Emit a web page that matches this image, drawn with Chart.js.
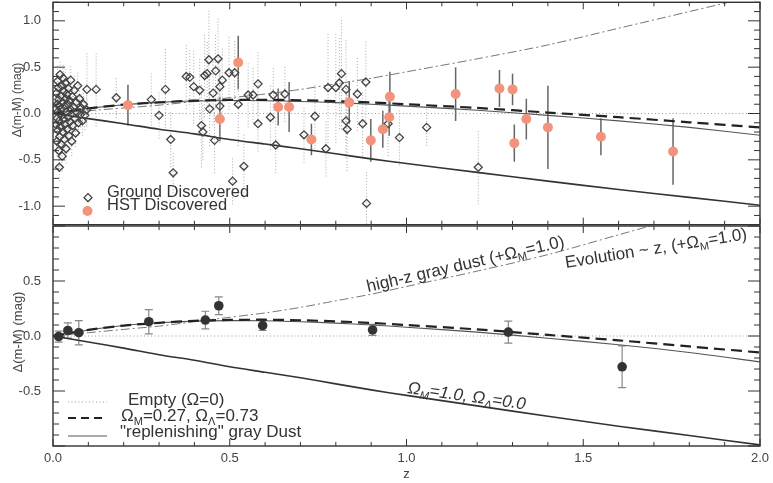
<!DOCTYPE html>
<html>
<head>
<meta charset="utf-8">
<script src="https://cdn.jsdelivr.net/npm/chart.js@4.4.0/dist/chart.umd.min.js"></script>
<style>
  body { margin: 0; background: #fff; overflow: hidden; }
  #topBox { position: absolute; left: 0; top: -3px; width: 773px; height: 233px; }
  #bottomBox { position: absolute; left: 0; top: 221px; width: 773px; height: 262px; }
</style>
</head>
<body>
<div id="topBox"><canvas id="topChart"></canvas></div>
<div id="bottomBox"><canvas id="bottomChart"></canvas></div>
<script>
// ground discovered SNe (open diamonds)
const groundZ = [
  0.008, 0.009, 0.010, 0.011, 0.012, 0.012, 0.013, 0.014, 0.014, 0.015,
  0.016, 0.016, 0.017, 0.018, 0.018, 0.019, 0.020, 0.020, 0.021, 0.022,
  0.023, 0.024, 0.025, 0.025, 0.026, 0.027, 0.028, 0.029, 0.030, 0.031,
  0.032, 0.033, 0.034, 0.035, 0.036, 0.037, 0.038, 0.039, 0.040, 0.042,
  0.043, 0.044, 0.045, 0.047, 0.048, 0.050, 0.051, 0.053, 0.055, 0.056,
  0.058, 0.060, 0.062, 0.064, 0.066, 0.068, 0.070, 0.072, 0.075, 0.078,
  0.080, 0.083, 0.086, 0.090, 0.095,
  0.096, 0.122, 0.179, 0.278, 0.300, 0.318, 0.333, 0.340, 0.377, 0.387,
  0.398, 0.415, 0.420, 0.424, 0.429, 0.436, 0.441, 0.443, 0.453, 0.457,
  0.460, 0.467, 0.472, 0.472, 0.479, 0.498, 0.508, 0.514, 0.524, 0.540,
  0.552, 0.566, 0.580, 0.580, 0.615, 0.623, 0.630, 0.656, 0.710, 0.741,
  0.772, 0.778, 0.800, 0.810, 0.816, 0.829, 0.829, 0.832, 0.861, 0.876,
  0.885, 0.887, 0.948, 0.980, 1.057, 1.203
];
const groundDm = [
  0.05, -0.12, 0.22, -0.30, 0.10, -0.05, 0.35, -0.18, 0.02, 0.28,
  -0.40, 0.15, -0.08, -0.58, 0.08, -0.25, 0.42, 0.00, -0.14, 0.19,
  -0.33, 0.05, 0.30, -0.02, -0.46, 0.12, -0.20, 0.38, -0.06, 0.24,
  -0.28, 0.08, -0.12, 0.33, 0.16, -0.38, 0.02, 0.21, -0.17, 0.10,
  -0.04, 0.27, -0.24, 0.14, -0.09, 0.36, 0.04, -0.30, 0.18, -0.13,
  0.07, 0.25, -0.05, -0.21, 0.12, 0.01, 0.30, -0.10, 0.16, -0.01,
  0.06, -0.08, 0.10, -0.02, 0.04,
  0.26, 0.26, 0.17, 0.15, -0.02, 0.26, -0.28, -0.64, 0.40, 0.39,
  0.29, 0.25, -0.13, -0.20, 0.41, 0.43, 0.58, 0.05, 0.22, -0.29,
  0.46, 0.59, 0.08, 0.29, 0.36, 0.44, -0.73, 0.44, 0.10, -0.57,
  0.20, 0.20, 0.32, -0.11, -0.04, 0.20, -0.34, 0.21, -0.23, -0.03,
  -0.38, 0.28, 0.28, 0.33, 0.43, 0.26, -0.08, -0.17, 0.21, -0.11,
  0.34, -0.97, -0.11, -0.26, -0.15, -0.58
];
const groundErr = [
  0.20, 0.18, 0.15, 0.16, 0.22, 0.14, 0.17, 0.15, 0.19, 0.14,
  0.18, 0.16, 0.13, 0.15, 0.17, 0.14, 0.16, 0.12, 0.15, 0.13,
  0.16, 0.12, 0.15, 0.13, 0.17, 0.12, 0.14, 0.16, 0.12, 0.13,
  0.15, 0.12, 0.13, 0.15, 0.12, 0.16, 0.12, 0.13, 0.14, 0.12,
  0.13, 0.14, 0.15, 0.12, 0.13, 0.15, 0.12, 0.16, 0.13, 0.14,
  0.12, 0.15, 0.13, 0.15, 0.13, 0.14, 0.16, 0.14, 0.15, 0.14,
  0.15, 0.16, 0.15, 0.16, 0.17,
  0.40, 0.40, 0.22, 0.28, 0.25, 0.45, 0.30, 0.22, 0.35, 0.30,
  0.40, 0.35, 0.45, 0.30, 0.45, 0.35, 0.55, 0.40, 0.35, 0.35,
  0.40, 0.45, 0.40, 0.30, 0.35, 0.40, 0.25, 0.35, 0.45, 0.35,
  0.35, 0.30, 0.35, 0.30, 0.35, 0.30, 0.30, 0.30, 0.30, 0.35,
  0.30, 0.60, 0.60, 0.50, 0.60, 0.55, 0.40, 0.45, 0.40, 0.35,
  0.45, 0.35, 0.35, 0.30, 0.20, 0.40
];

// HST discovered SNe (filled salmon circles)
const hstZ = [0.212, 0.472, 0.524, 0.637, 0.668, 0.731, 0.838, 0.899, 0.933, 0.951,
  0.953, 1.139, 1.263, 1.300, 1.305, 1.339, 1.400, 1.550, 1.754];
const hstDm = [0.09, -0.06, 0.55, 0.07, 0.07, -0.28, 0.12, -0.29, -0.17, -0.04,
  0.18, 0.21, 0.27, 0.26, -0.32, -0.06, -0.15, -0.25, -0.41];
const hstErr = [0.22, 0.24, 0.29, 0.20, 0.27, 0.17, 0.23, 0.23, 0.20, 0.20,
  0.27, 0.29, 0.20, 0.17, 0.20, 0.22, 0.45, 0.20, 0.36];

// binned residuals (lower panel)
const binZ = [0.016, 0.042, 0.073, 0.271, 0.431, 0.469, 0.593, 0.904, 1.288, 1.610];
const binDm = [-0.005, 0.05, 0.03, 0.13, 0.145, 0.275, 0.095, 0.055, 0.035, -0.28];
const binErr = [0.05, 0.07, 0.11, 0.11, 0.08, 0.08, 0.045, 0.05, 0.10, 0.19];

// model curves
const modelZ = [0, 0.1, 0.2, 0.3, 0.4, 0.5, 0.6, 0.7, 0.8, 0.9, 1.0, 1.2, 1.4, 1.6, 1.8, 2.0];
const emptyDm = [0, 0, 0, 0, 0, 0, 0, 0, 0, 0, 0, 0, 0, 0, 0, 0];
const lcdmDm = [0, 0.055, 0.095, 0.12, 0.138, 0.146, 0.148, 0.143, 0.133, 0.119, 0.10, 0.06, 0.01, -0.04, -0.095, -0.15];
const replenDm = [0, 0.055, 0.095, 0.12, 0.135, 0.14, 0.138, 0.13, 0.117, 0.10, 0.08, 0.035, -0.02, -0.08, -0.15, -0.235];
const edsDm = [0, -0.055, -0.11, -0.17, -0.22, -0.28, -0.33, -0.38, -0.435, -0.49, -0.54, -0.635, -0.73, -0.82, -0.905, -0.99];
const dustDm = [0, 0.03, 0.06, 0.09, 0.13, 0.17, 0.21, 0.26, 0.32, 0.38, 0.45, 0.59, 0.74, 0.92, 1.10, 1.28];

// ticks
const xTicks = [0, 0.5, 1.0, 1.5, 2.0];
const yTicksTop = [-1.0, -0.5, 0.0, 0.5, 1.0];
const yTicksBottom = [-0.5, 0.0, 0.5];

const FONT = '"Liberation Sans", Arial, Helvetica, sans-serif';
const INK = '#333';
const SALMON = '#f4937c';

function pts(xs, ys) {
  return xs.map((x, i) => ({ x: x, y: ys[i] }));
}

function modelLines() {
  return [
    { data: pts(modelZ, emptyDm), showLine: true, pointRadius: 0, borderColor: '#999', borderWidth: 1, borderDash: [1, 2.5], order: 5 },
    { data: pts(modelZ, dustDm), showLine: true, pointRadius: 0, borderColor: '#777', borderWidth: 1, borderDash: [9, 3, 2, 3], tension: 0.3, order: 5 },
    { data: pts(modelZ, replenDm), showLine: true, pointRadius: 0, borderColor: '#555', borderWidth: 1.1, tension: 0.3, order: 4 },
    { data: pts(modelZ, lcdmDm), showLine: true, pointRadius: 0, borderColor: '#222', borderWidth: 2.2, borderDash: [11, 6], tension: 0.3, order: 3 },
    { data: pts(modelZ, edsDm), showLine: true, pointRadius: 0, borderColor: '#333', borderWidth: 1.6, tension: 0.3, order: 3 }
  ];
}

// text with subscripts: parts = [[text, isSub], ...]
function richText(ctx, parts, x, y, size, angle, italic) {
  ctx.save();
  ctx.translate(x, y);
  ctx.rotate(angle * Math.PI / 180);
  ctx.fillStyle = INK;
  ctx.textBaseline = 'alphabetic';
  ctx.textAlign = 'left';
  let cx = 0;
  parts.forEach(p => {
    const fs = p[1] ? size * 0.65 : size;
    ctx.font = (italic ? 'italic ' : '') + fs + 'px ' + FONT;
    ctx.fillText(p[0], cx, p[1] ? size * 0.22 : 0);
    cx += ctx.measureText(p[0]).width;
  });
  ctx.restore();
}

function yTitle(ctx, x, y, size) {
  ctx.save();
  ctx.translate(x, y);
  ctx.rotate(-Math.PI / 2);
  ctx.fillStyle = '#444';
  ctx.font = size + 'px ' + FONT;
  ctx.textAlign = 'center';
  ctx.textBaseline = 'middle';
  ctx.fillText('Δ(m-M) (mag)', 0, 0);
  ctx.restore();
}

const errorBars = {
  id: 'errorBars',
  beforeDatasetsDraw(chart) {
    const { ctx, chartArea: a, scales: { x, y } } = chart;
    ctx.save();
    ctx.beginPath();
    ctx.rect(a.left, a.top, a.width, a.height);
    ctx.clip();
    chart.data.datasets.forEach(ds => {
      if (!ds.errors) return;
      ctx.strokeStyle = ds.errColor;
      ctx.lineWidth = ds.errWidth;
      ctx.setLineDash(ds.errDash || []);
      ctx.beginPath();
      ds.data.forEach((p, i) => {
        const px = x.getPixelForValue(p.x);
        const y1 = y.getPixelForValue(p.y - ds.errors[i]);
        const y2 = y.getPixelForValue(p.y + ds.errors[i]);
        ctx.moveTo(px, y1);
        ctx.lineTo(px, y2);
        if (ds.errCap) {
          ctx.moveTo(px - ds.errCap, y1); ctx.lineTo(px + ds.errCap, y1);
          ctx.moveTo(px - ds.errCap, y2); ctx.lineTo(px + ds.errCap, y2);
        }
      });
      ctx.stroke();
    });
    ctx.restore();
  }
};

// frame and inward IDL style ticks on all four sides
const frameTicks = {
  id: 'frameTicks',
  afterDatasetsDraw(chart) {
    const { ctx, chartArea: a, scales: { x, y } } = chart;
    const major = v => Math.abs(v * 2 - Math.round(v * 2)) < 1e-6;
    ctx.save();
    ctx.strokeStyle = INK;
    ctx.lineWidth = 1;
    ctx.beginPath();
    for (let i = 0; i <= 20; i++) {
      const v = i / 10;
      const px = x.getPixelForValue(v);
      const len = major(v) ? 7 : 4;
      ctx.moveTo(px, a.bottom); ctx.lineTo(px, a.bottom - len);
      ctx.moveTo(px, a.top); ctx.lineTo(px, a.top + len);
    }
    for (let i = Math.ceil(y.min * 10); i <= Math.floor(y.max * 10); i++) {
      const v = i / 10;
      const py = y.getPixelForValue(v);
      const len = major(v) ? 12 : 6;
      ctx.moveTo(a.left, py); ctx.lineTo(a.left + len, py);
      ctx.moveTo(a.right, py); ctx.lineTo(a.right - len, py);
    }
    ctx.stroke();
    ctx.lineWidth = 1.4;
    ctx.strokeRect(a.left, a.top, a.width, a.height);
    ctx.restore();
  }
};

// top canvas sits 3px above the page, so page y = canvas y - 3
const topLabels = {
  id: 'topLabels',
  afterDraw(chart) {
    const ctx = chart.ctx;
    yTitle(ctx, 18, 103, 12);
    ctx.save();
    ctx.strokeStyle = INK;
    ctx.lineWidth = 1.2;
    ctx.beginPath();
    ctx.moveTo(88, 196.7); ctx.lineTo(92, 200.7); ctx.lineTo(88, 204.7); ctx.lineTo(84, 200.7); ctx.closePath();
    ctx.stroke();
    ctx.fillStyle = SALMON;
    ctx.beginPath();
    ctx.arc(87.5, 214, 5, 0, Math.PI * 2);
    ctx.fill();
    ctx.restore();
    richText(ctx, [['Ground Discovered']], 107, 200, 16.5, 0, false);
    richText(ctx, [['HST Discovered']], 107, 213, 16.5, 0, false);
  }
};

// bottom canvas starts at page y 221
const bottomLabels = {
  id: 'bottomLabels',
  afterDraw(chart) {
    const ctx = chart.ctx;
    yTitle(ctx, 18, 111, 13);
    ctx.save();
    ctx.strokeStyle = '#999'; ctx.lineWidth = 1; ctx.setLineDash([1, 2.5]);
    ctx.beginPath(); ctx.moveTo(68, 181); ctx.lineTo(107, 181); ctx.stroke();
    ctx.strokeStyle = '#222'; ctx.lineWidth = 2.2; ctx.setLineDash([8, 5]);
    ctx.beginPath(); ctx.moveTo(68, 197); ctx.lineTo(107, 197); ctx.stroke();
    ctx.strokeStyle = '#555'; ctx.lineWidth = 1.1; ctx.setLineDash([]);
    ctx.beginPath(); ctx.moveTo(68, 215); ctx.lineTo(107, 215); ctx.stroke();
    ctx.restore();
    richText(ctx, [['Empty (Ω=0)']], 128, 184, 17, 0, false);
    richText(ctx, [['Ω'], ['M', 1], ['=0.27, Ω'], ['Λ', 1], ['=0.73']], 121, 200, 17, 0, false);
    richText(ctx, [['"replenishing" gray Dust']], 120, 216, 17, 0, false);
    richText(ctx, [['high-z gray dust (+Ω'], ['M', 1], ['=1.0)']], 368, 71, 17, -13, false);
    richText(ctx, [['Evolution ~ z, (+Ω'], ['M', 1], ['=1.0)']], 566, 47, 17, -9, false);
    richText(ctx, [['Ω'], ['M', 1], ['=1.0, Ω'], ['Λ', 1], ['=0.0']], 407, 172, 17, 8, true);
  }
};

const tickFont = { family: FONT, size: 13 };

function noPad(s) {
  s.paddingTop = 0; s.paddingBottom = 0; s.paddingLeft = 0; s.paddingRight = 0;
}

new Chart(document.getElementById('topChart'), {
  type: 'scatter',
  data: {
    datasets: [
      {
        data: pts(hstZ, hstDm), errors: hstErr, errColor: '#666', errWidth: 1.5,
        pointStyle: 'circle', pointRadius: 5, backgroundColor: SALMON, borderColor: SALMON, borderWidth: 0, order: 0
      },
      {
        data: pts(groundZ, groundDm), errors: groundErr, errColor: '#aaa', errWidth: 1, errDash: [1, 2],
        pointStyle: 'rectRot', pointRadius: 4, backgroundColor: 'rgba(255,255,255,0)', borderColor: '#444', borderWidth: 1.3, order: 1
      }
    ].concat(modelLines())
  },
  options: {
    responsive: true,
    maintainAspectRatio: false,
    animation: false,
    layout: { padding: { top: 5, right: 13, left: 0, bottom: 5 } },
    plugins: { legend: { display: false }, tooltip: { enabled: false } },
    scales: {
      x: {
        type: 'linear', min: 0, max: 2,
        grid: { display: false }, border: { display: false },
        ticks: { display: false },
        afterFit(s) { s.height = 0; noPad(s); }
      },
      y: {
        min: -1.2, max: 1.2,
        grid: { display: false }, border: { display: false },
        ticks: { color: '#444', font: tickFont, padding: 4, callback: v => v.toFixed(1) },
        afterBuildTicks(s) { s.ticks = yTicksTop.map(v => ({ value: v })); },
        afterFit(s) { s.width = 53; noPad(s); }
      }
    }
  },
  plugins: [errorBars, frameTicks, topLabels]
});

new Chart(document.getElementById('bottomChart'), {
  type: 'scatter',
  data: {
    datasets: [
      {
        data: pts(binZ, binDm), errors: binErr, errColor: '#888', errWidth: 1.2, errCap: 4,
        pointStyle: 'circle', pointRadius: 4.8, backgroundColor: '#333', borderColor: '#333', borderWidth: 0, order: 0
      }
    ].concat(modelLines())
  },
  options: {
    responsive: true,
    maintainAspectRatio: false,
    animation: false,
    layout: { padding: { top: 5, right: 13, left: 0, bottom: 0 } },
    plugins: { legend: { display: false }, tooltip: { enabled: false } },
    scales: {
      x: {
        type: 'linear', min: 0, max: 2,
        grid: { display: false, drawTicks: false }, border: { display: false },
        ticks: { color: '#444', font: tickFont, padding: 5, maxRotation: 0, callback: v => v.toFixed(1) },
        afterBuildTicks(s) { s.ticks = xTicks.map(v => ({ value: v })); },
        title: { display: true, text: 'z', color: '#444', font: { family: FONT, size: 13 }, padding: { top: 0, bottom: 1 } },
        afterFit(s) { s.height = 37; noPad(s); }
      },
      y: {
        min: -1.0, max: 1.0,
        grid: { display: false }, border: { display: false },
        ticks: { color: '#444', font: tickFont, padding: 4, callback: v => v.toFixed(1) },
        afterBuildTicks(s) { s.ticks = yTicksBottom.map(v => ({ value: v })); },
        afterFit(s) { s.width = 53; noPad(s); }
      }
    }
  },
  plugins: [errorBars, frameTicks, bottomLabels]
});
</script>
</body>
</html>
